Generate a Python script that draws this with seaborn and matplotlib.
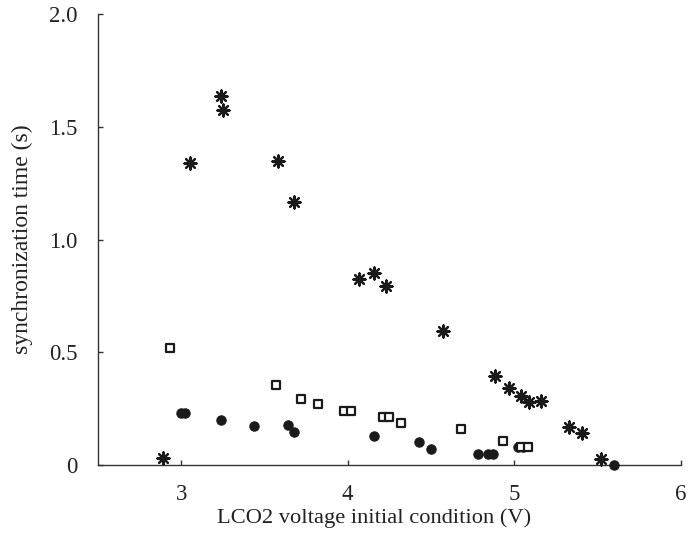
import matplotlib
matplotlib.use("Agg")
import matplotlib.pyplot as plt
import seaborn as sns
import pandas as pd

# asterisk series
star_x = [2.89, 3.05, 3.24, 3.25, 3.58, 3.675, 4.065, 4.16, 4.23, 4.57, 4.886, 4.97, 5.04, 5.09, 5.16, 5.33, 5.41, 5.52]
star_y = [0.03, 1.34, 1.636, 1.574, 1.35, 1.166, 0.825, 0.851, 0.794, 0.594, 0.395, 0.341, 0.306, 0.279, 0.284, 0.168, 0.142, 0.027]

# filled dot series
dot_x = [3.0, 3.02, 3.24, 3.44, 3.64, 3.675, 4.16, 4.43, 4.50, 4.78, 4.84, 4.87, 5.02, 5.05, 5.60]
dot_y = [0.23, 0.23, 0.20, 0.173, 0.177, 0.146, 0.129, 0.102, 0.071, 0.049, 0.049, 0.049, 0.08, 0.08, 0.0]

# open square series
sq_x = [2.93, 3.57, 3.72, 3.82, 3.98, 4.02, 4.21, 4.25, 4.32, 4.68, 4.93, 5.04, 5.08]
sq_y = [0.52, 0.354, 0.293, 0.27, 0.24, 0.24, 0.213, 0.213, 0.186, 0.16, 0.106, 0.08, 0.08]

xticks = [3, 4, 5, 6]
yticks = [0, 0.5, 1.0, 1.5, 2.0]
ytick_labels = ["0", "0.5", "1.0", "1.5", "2.0"]

sns.set_style("ticks")
plt.rcParams["font.family"] = ["Liberation Serif", "DejaVu Serif"]

fig = plt.figure(figsize=(6.88, 5.42), dpi=100)
ax = fig.add_axes([0.1424, 0.142, 0.847, 0.832])

stars = pd.DataFrame({"x": star_x, "y": star_y})
dots = pd.DataFrame({"x": dot_x, "y": dot_y})
sqs = pd.DataFrame({"x": sq_x, "y": sq_y})

sns.scatterplot(data=dots, x="x", y="y", ax=ax, marker="o", s=45,
                color="#1a1a1a", edgecolor="#1a1a1a", linewidth=0.8, zorder=3, clip_on=False)
sns.scatterplot(data=sqs, x="x", y="y", ax=ax, marker="s", s=36,
                facecolor="white", edgecolor="#1a1a1a", linewidth=1.6, zorder=4, clip_on=False)
sns.scatterplot(data=stars, x="x", y="y", ax=ax, marker=(8, 2, 0), s=75,
                color="#1a1a1a", edgecolor="#1a1a1a", linewidth=1.6, zorder=5, clip_on=False)

ax.set_xlim(2.5, 6)
ax.set_ylim(0, 2.0)
ax.set_xticks(xticks)
ax.set_xticklabels([str(t) for t in xticks])
ax.set_yticks(yticks)
ax.set_yticklabels(ytick_labels)
ax.tick_params(axis="both", direction="in", length=3.5, width=1, color="#333333",
               labelsize=16.5, labelcolor="#222222")
ax.tick_params(axis="x", pad=14)
ax.tick_params(axis="y", pad=14.5)
for side in ["top", "right"]:
    ax.spines[side].set_visible(False)
for side in ["left", "bottom"]:
    ax.spines[side].set_color("#333333")
    ax.spines[side].set_linewidth(1.0)

ax.set_xlabel("LCO2 voltage initial condition (V)", fontsize=16.2, color="#222222")
ax.set_ylabel("synchronization time (s)", fontsize=17, color="#222222")
ax.xaxis.set_label_coords(0.473, -0.095)
ax.yaxis.set_label_coords(-0.112, 0.5)

fig.savefig("out.png", dpi=100)
